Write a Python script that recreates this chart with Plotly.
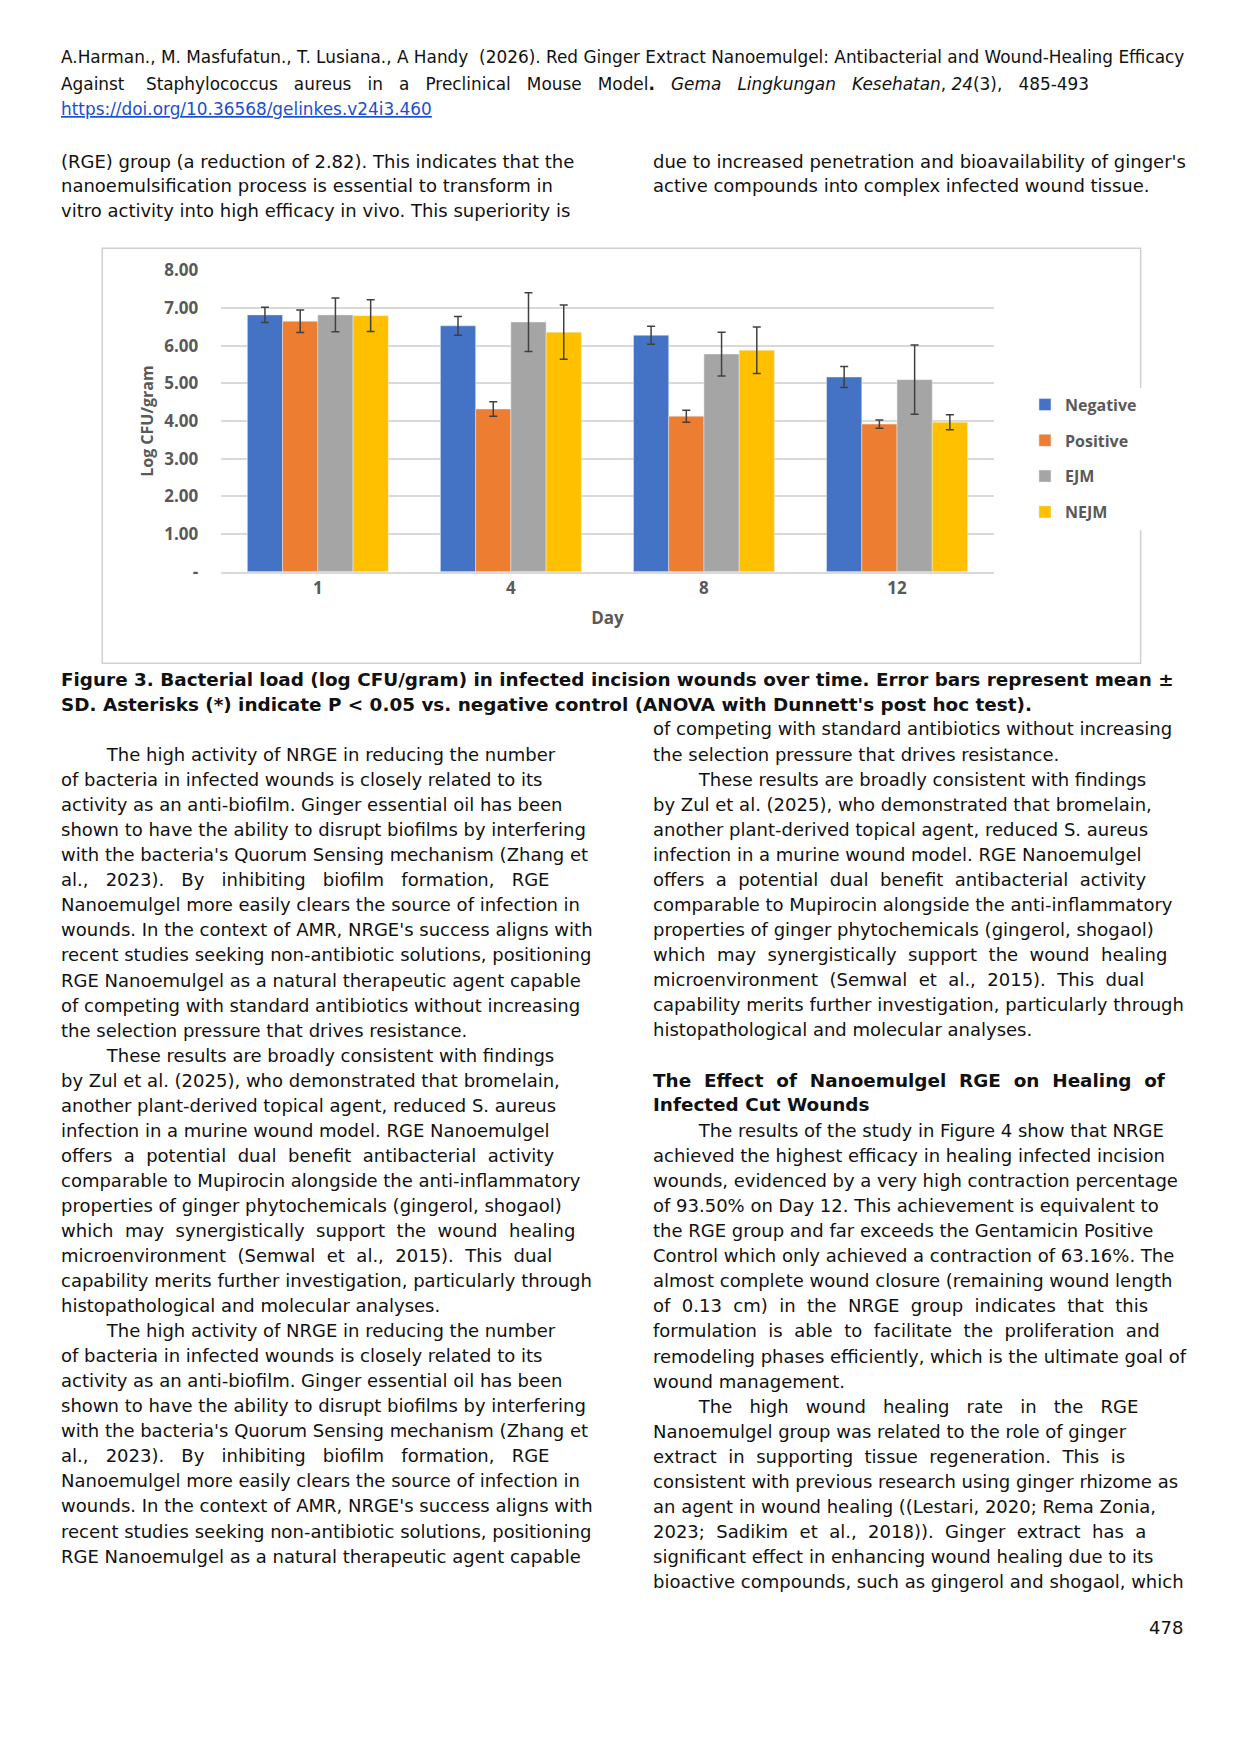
import plotly.graph_objects as go

W, H = 1241, 1754
S = 1.118  # display->page scale

days = ["1", "4", "8", "12"]
series = ["Negative", "Positive", "EJM", "NEJM"]
colors = ["#4472C4", "#ED7D31", "#A5A5A5", "#FFC000"]
values = {
    "Negative": [6.82, 6.53, 6.28, 5.17],
    "Positive": [6.65, 4.32, 4.13, 3.92],
    "EJM": [6.82, 6.63, 5.78, 5.10],
    "NEJM": [6.80, 6.36, 5.88, 3.97],
}
errors = {
    "Negative": [0.20, 0.25, 0.24, 0.28],
    "Positive": [0.30, 0.19, 0.16, 0.11],
    "EJM": [0.45, 0.78, 0.58, 0.92],
    "NEJM": [0.42, 0.72, 0.62, 0.20],
}
yticks = [0, 1, 2, 3, 4, 5, 6, 7, 8]
yticklabels = ["-", "1.00", "2.00", "3.00", "4.00", "5.00", "6.00", "7.00", "8.00"]

fig = go.Figure()
for s, c in zip(series, colors):
    fig.add_trace(go.Bar(
        name=s, x=days, y=values[s], marker_color=c, legendgroup=s,
        error_y=dict(type="data", array=errors[s], color="#404040", thickness=1.5, width=4),
    ))

def py(yd):
    yd = (yd - 15.5) / 0.989
    return 1 - yd * S / H

def px(xd):
    xd = (xd - 8.0) / 0.996
    return xd * S / W

ann = []
def txt(x, yd, t, size=18, bold=False, italic=False, color="#111", anchor="left"):
    if bold:
        t = "<b>" + t + "</b>"
    if italic:
        t = "<i>" + t + "</i>"
    ann.append(dict(x=px(x), y=py(yd), xref="paper", yref="paper", text=t, showarrow=False,
                    xanchor=anchor, yanchor="middle",
                    font=dict(family="DejaVu Sans", size=size, color=color)))

# header
txt(53, 49, "A.Harman., M. Masfufatun., T. Lusiana., A Handy  (2026). Red Ginger Extract Nanoemulgel: Antibacterial and Wound-Healing Efficacy", size=16.9)
txt(53, 73, "Against  &nbsp;&nbsp;Staphylococcus &nbsp;&nbsp;aureus &nbsp;&nbsp;in &nbsp;&nbsp;a &nbsp;&nbsp;Preclinical &nbsp;&nbsp;Mouse &nbsp;&nbsp;Model<b>.</b> &nbsp;&nbsp;<i>Gema &nbsp;&nbsp;Lingkungan &nbsp;&nbsp;Kesehatan</i>, <i>24</i>(3), &nbsp;&nbsp;485-493", size=16.9)
txt(53, 95, "<u>https://doi.org/10.36568/gelinkes.v24i3.460</u>", size=16.9, color="#1a4fd0")

txt(53, 142, "(RGE) group (a reduction of 2.82). This indicates that the")
txt(53, 164, "nanoemulsification process is essential to transform in")
txt(53, 186, "vitro activity into high efficacy in vivo. This superiority is")
txt(581, 142, "due to increased penetration and bioavailability of ginger's")
txt(581, 164, "active compounds into complex infected wound tissue.")

txt(53, 607, "Figure 3. Bacterial load (log CFU/gram) in infected incision wounds over time. Error bars represent mean ±", bold=True, size=18.4)
txt(53, 629, "SD. Asterisks (*) indicate P < 0.05 vs. negative control (ANOVA with Dunnett's post hoc test).", bold=True, size=18.4)

I = "&nbsp;" * 8
p1 = [I + "The high activity of NRGE in reducing the number",
      "of bacteria in infected wounds is closely related to its",
      "activity as an anti-biofilm. Ginger essential oil has been",
      "shown to have the ability to disrupt biofilms by interfering",
      "with the bacteria's Quorum Sensing mechanism (Zhang et",
      "al.,  &nbsp;2023).  &nbsp;By  &nbsp;inhibiting  &nbsp;biofilm  &nbsp;formation,  &nbsp;RGE",
      "Nanoemulgel more easily clears the source of infection in",
      "wounds. In the context of AMR, NRGE's success aligns with",
      "recent studies seeking non-antibiotic solutions, positioning",
      "RGE Nanoemulgel as a natural therapeutic agent capable",
      "of competing with standard antibiotics without increasing",
      "the selection pressure that drives resistance."]
p2 = [I + "These results are broadly consistent with findings",
      "by Zul et al. (2025), who demonstrated that bromelain,",
      "another plant-derived topical agent, reduced S. aureus",
      "infection in a murine wound model. RGE Nanoemulgel",
      "offers  a  potential  dual  benefit  antibacterial  activity",
      "comparable to Mupirocin alongside the anti-inflammatory",
      "properties of ginger phytochemicals (gingerol, shogaol)",
      "which  may  synergistically  support  the  wound  healing",
      "microenvironment  (Semwal  et  al.,  2015).  This  dual",
      "capability merits further investigation, particularly through",
      "histopathological and molecular analyses."]
left = p1 + p2 + p1[:10]
for i, l in enumerate(left):
    txt(53, 674 + i * 22.45, l)

right_a = p1[10:] + p2
for i, l in enumerate(right_a):
    txt(581, 651 + i * 22.45, l)
txt(581, 966, "The  Effect  of  Nanoemulgel  RGE  on  Healing  of", bold=True, size=18.4)
txt(581, 988, "Infected Cut Wounds", bold=True, size=18.4)
right_b = [I + "The results of the study in Figure 4 show that NRGE",
           "achieved the highest efficacy in healing infected incision",
           "wounds, evidenced by a very high contraction percentage",
           "of 93.50% on Day 12. This achievement is equivalent to",
           "the RGE group and far exceeds the Gentamicin Positive",
           "Control which only achieved a contraction of 63.16%. The",
           "almost complete wound closure (remaining wound length",
           "of  0.13  cm)  in  the  NRGE  group  indicates  that  this",
           "formulation  is  able  to  facilitate  the  proliferation  and",
           "remodeling phases efficiently, which is the ultimate goal of",
           "wound management.",
           I + "The  &nbsp;high  &nbsp;wound  &nbsp;healing  &nbsp;rate  &nbsp;in  &nbsp;the  &nbsp;RGE",
           "Nanoemulgel group was related to the role of ginger",
           "extract  in  supporting  tissue  regeneration.  This  is",
           "consistent with previous research using ginger rhizome as",
           "an agent in wound healing ((Lestari, 2020; Rema Zonia,",
           "2023;  Sadikim  et  al.,  2018)).  Ginger  extract  has  a",
           "significant effect in enhancing wound healing due to its",
           "bioactive compounds, such as gingerol and shogaol, which"]
for i, l in enumerate(right_b):
    txt(581, 1011 + i * 22.45, l)
txt(1057, 1456, "478", anchor="right")

tickfont = dict(family="Open Sans", size=17, color="#595959", weight="bold")
fig.update_layout(
    width=W, height=H, margin=dict(l=0, r=0, t=0, b=0),
    paper_bgcolor="white", plot_bgcolor="white",
    barmode="group", bargap=0.27, bargroupgap=0,
    xaxis=dict(domain=[px(198), px(886)], tickfont=tickfont,
               title=dict(text="<b>Day</b>", font=dict(family="Open Sans", size=17, color="#595959"), standoff=14),
               showline=True, linecolor="#d9d9d9", linewidth=1.5, ticks=""),
    yaxis=dict(domain=[py(510), py(240)], range=[0, 8], tickvals=yticks, ticktext=yticklabels,
               tickfont=tickfont,
               gridcolor="#d9d9d9", gridwidth=1.5, zeroline=False, ticks="", ticklabelstandoff=22,
               title=dict(text="<b>Log CFU/gram</b>", font=dict(family="Open Sans", size=16, color="#595959"), standoff=6)),
    legend=dict(x=px(914), y=py(345), xanchor="left", yanchor="top",
                font=dict(family="Open Sans", size=16, color="#595959", weight="bold"),
                itemwidth=30, tracegroupgap=12),
    annotations=ann,
    shapes=[dict(type="rect", xref="paper", yref="paper", x0=px(92), x1=px(1017), y0=py(592), y1=py(220),
                 line=dict(color="#d0d0d0", width=1.5))],
)
fig.write_html("out.html")
